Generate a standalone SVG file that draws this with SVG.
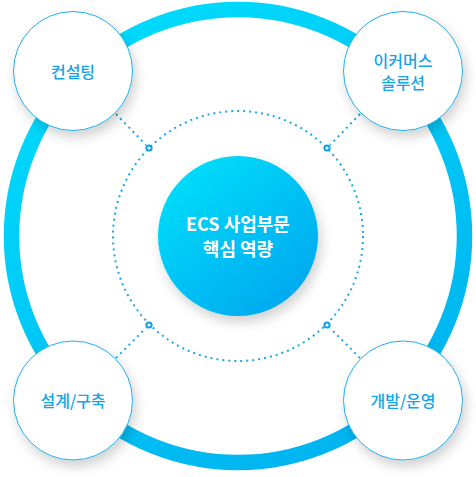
<svg xmlns="http://www.w3.org/2000/svg" width="476" height="477" viewBox="0 0 476 477">
  <defs>
    <linearGradient id="ringGrad" x1="0.2" y1="0" x2="0.8" y2="1">
      <stop offset="0" stop-color="#00dcfd"/>
      <stop offset="1" stop-color="#00b2ef"/>
    </linearGradient>
    <linearGradient id="coreGrad" x1="0.15" y1="0.1" x2="0.85" y2="0.9">
      <stop offset="0" stop-color="#00dcfa"/>
      <stop offset="1" stop-color="#00a9ef"/>
    </linearGradient>
    <filter id="shadow" x="-30%" y="-30%" width="170%" height="170%">
      <feDropShadow dx="3" dy="6" stdDeviation="6" flood-color="#000" flood-opacity="0.18"/>
    </filter>
    <style>
      .node { fill: #ffffff; stroke: #1fb0ec; stroke-width: 1; filter: url(#shadow); }
      .label { font-family: "Noto Sans CJK KR", "Noto Sans", sans-serif; font-size: 16px; font-weight: 500; fill: #14a4e8; text-anchor: middle; dominant-baseline: central; }
      .core-label { font-family: "Noto Sans CJK KR", "Noto Sans", sans-serif; font-size: 18px; font-weight: 700; fill: #ffffff; text-anchor: middle; dominant-baseline: central; }
      .dots { fill: none; stroke: #18a8e8; stroke-width: 2; stroke-dasharray: 2 4; }
      .marker { fill: #ffffff; stroke: #0ba2e6; stroke-width: 2; }
    </style>
  </defs>

  <g id="ring">
    <circle cx="238" cy="236" r="226.5" fill="none" stroke="url(#ringGrad)" stroke-width="15.5"/>
  </g>

  <g id="connectors">
    <circle class="dots" cx="238" cy="236" r="125"/>
    <line class="dots" x1="116" y1="114" x2="146" y2="145"/>
    <line class="dots" x1="360" y1="114" x2="330" y2="145"/>
    <line class="dots" x1="116" y1="358" x2="146" y2="328"/>
    <line class="dots" x1="360" y1="358" x2="330" y2="328"/>
    <circle class="marker" cx="149" cy="148" r="2.6"/>
    <circle class="marker" cx="327" cy="148" r="2.6"/>
    <circle class="marker" cx="149" cy="325" r="2.6"/>
    <circle class="marker" cx="327" cy="325" r="2.6"/>
  </g>

  <g id="core">
    <circle cx="238" cy="236" r="80" fill="url(#coreGrad)" filter="url(#shadow)"/>
    <text class="core-label" x="238" y="223">ECS 사업부문</text>
    <text class="core-label" x="238" y="248">핵심 역량</text>
  </g>

  <g id="consulting">
    <circle class="node" cx="73" cy="71" r="59.5"/>
    <text class="label" x="73" y="71">컨설팅</text>
  </g>

  <g id="ecommerce">
    <circle class="node" cx="403" cy="71" r="59.5"/>
    <text class="label" x="403" y="60">이커머스<tspan x="403" dy="22">솔루션</tspan></text>
  </g>

  <g id="design">
    <circle class="node" cx="73" cy="400.5" r="59.5"/>
    <text class="label" x="73" y="400">설계/구축</text>
  </g>

  <g id="devops">
    <circle class="node" cx="403" cy="400.5" r="59.5"/>
    <text class="label" x="403" y="400">개발/운영</text>
  </g>
</svg>
